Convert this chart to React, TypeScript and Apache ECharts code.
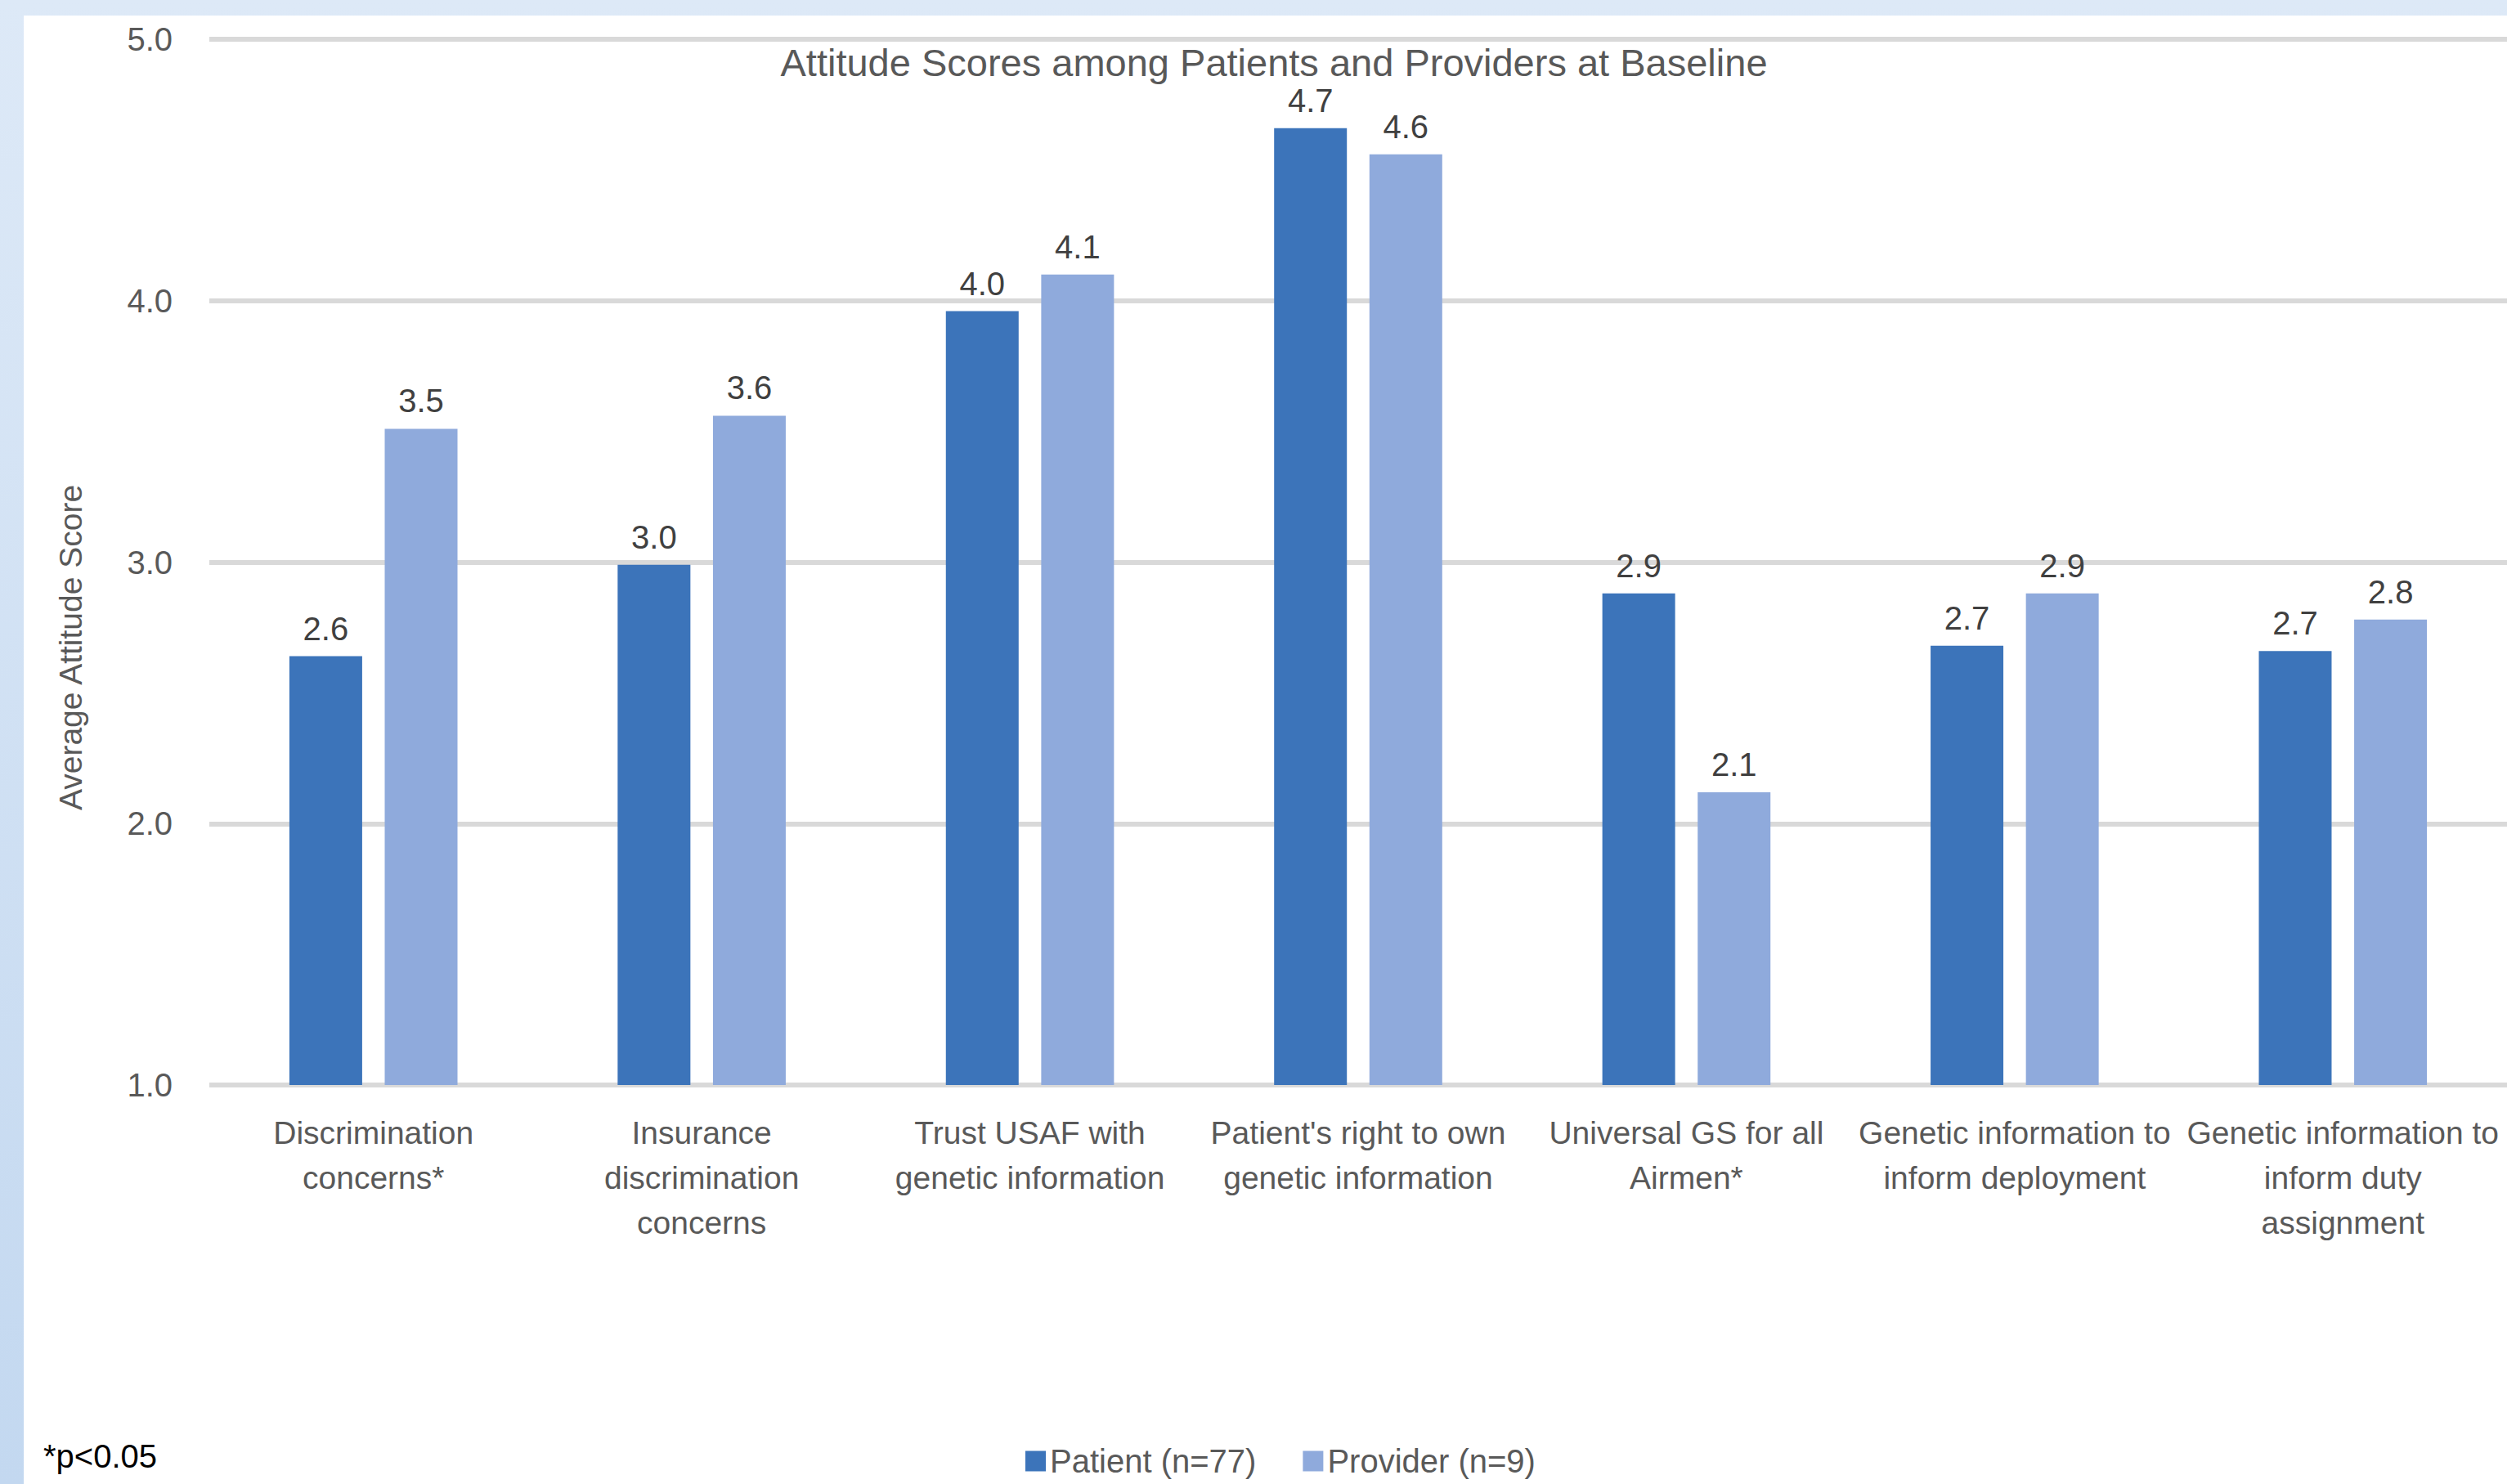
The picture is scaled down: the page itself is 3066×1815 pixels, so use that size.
import React, { useEffect, useRef } from "react";
import * as echarts from "echarts";

const categories = [
  "Discrimination\nconcerns*",
  "Insurance\ndiscrimination\nconcerns",
  "Trust USAF with\ngenetic information",
  "Patient's right to own\ngenetic information",
  "Universal GS for all\nAirmen*",
  "Genetic information to\ninform deployment",
  "Genetic information to\ninform duty\nassignment",
];
const patientValues = [2.64, 2.99, 3.96, 4.66, 2.88, 2.68, 2.66];
const providerValues = [3.51, 3.56, 4.1, 4.56, 2.12, 2.88, 2.78];
const seriesNames = ["Patient (n=77)", "Provider (n=9)"];
const yTicks = { min: 1, max: 5, interval: 1 };

const FONT = "'Liberation Sans Narrow', 'Arial Narrow', 'Liberation Sans', sans-serif";

export default function App() {
  const ref = useRef<HTMLDivElement>(null);
  useEffect(() => {
    if (!ref.current) return;
    const chart = echarts.init(ref.current, undefined, { renderer: "svg" });
    const label = {
      show: true,
      position: "top",
      distance: 14,
      fontSize: 40,
      color: "#404040",
      fontFamily: FONT,
      formatter: (p: any) => Number(p.value).toFixed(1),
    };
    chart.setOption({
      animation: false,
      textStyle: { fontFamily: FONT },
      graphic: [
        {
          type: "rect",
          z: -10,
          silent: true,
          shape: { x: 0, y: 0, width: 3066, height: 1815 },
          style: {
            fill: new echarts.graphic.LinearGradient(0, 0, 0, 1, [
              { offset: 0, color: "#dde9f7" },
              { offset: 1, color: "#c3d8f0" },
            ]),
          },
        },
        {
          type: "rect",
          z: -9,
          silent: true,
          shape: { x: 29, y: 19, width: 3066 - 29, height: 1815 - 19 },
          style: { fill: "#ffffff" },
        },
        {
          type: "text",
          x: 53,
          y: 1781,
          style: {
            text: "*p<0.05",
            fontSize: 40,
            fill: "#000000",
            fontFamily: FONT,
            textVerticalAlign: "middle",
          },
        },
        {
          type: "text",
          x: 86,
          y: 792,
          rotation: Math.PI / 2,
          style: {
            text: "Average Attitude Score",
            fontSize: 39,
            fill: "#595959",
            fontFamily: FONT,
            textAlign: "center",
            textVerticalAlign: "middle",
          },
        },
      ],
      title: {
        text: "Attitude Scores among Patients and Providers at Baseline",
        left: 1558,
        textAlign: "center",
        top: 53,
        padding: 0,
        textStyle: { fontSize: 47, fontWeight: "normal", color: "#595959", fontFamily: FONT },
      },
      legend: {
        left: 1249,
        top: 1762,
        itemWidth: 25,
        itemHeight: 25,
        itemGap: 57,
        icon: "rect",
        textStyle: { fontSize: 40, color: "#595959", fontFamily: FONT },
        data: seriesNames,
      },
      grid: { left: 256, right: -9, top: 48, bottom: 1815 - 1327, containLabel: false },
      xAxis: {
        type: "category",
        data: categories,
        axisLine: { show: false },
        axisTick: { show: false },
        axisLabel: {
          interval: 0,
          fontSize: 39,
          lineHeight: 55,
          color: "#595959",
          fontFamily: FONT,
          margin: 31,
        },
      },
      yAxis: {
        type: "value",
        min: yTicks.min,
        max: yTicks.max,
        interval: yTicks.interval,
        axisLine: { show: false },
        axisTick: { show: false },
        axisLabel: {
          fontSize: 40,
          color: "#595959",
          fontFamily: FONT,
          margin: 45,
          formatter: (v: number) => v.toFixed(1),
        },
        splitLine: { lineStyle: { color: "#d9d9d9", width: 6 } },
      },
      series: [
        {
          name: seriesNames[0],
          type: "bar",
          data: patientValues,
          barWidth: 89,
          barGap: "31%",
          itemStyle: { color: "#3c74ba" },
          label,
        },
        {
          name: seriesNames[1],
          type: "bar",
          data: providerValues,
          barWidth: 89,
          barGap: "31%",
          itemStyle: { color: "#8faadc" },
          label,
        },
      ],
    });
    return () => chart.dispose();
  }, []);
  return (
    <div
      ref={ref}
      style={{ position: "absolute", left: 0, top: 0, width: 3066, height: 1815 }}
    />
  );
}
